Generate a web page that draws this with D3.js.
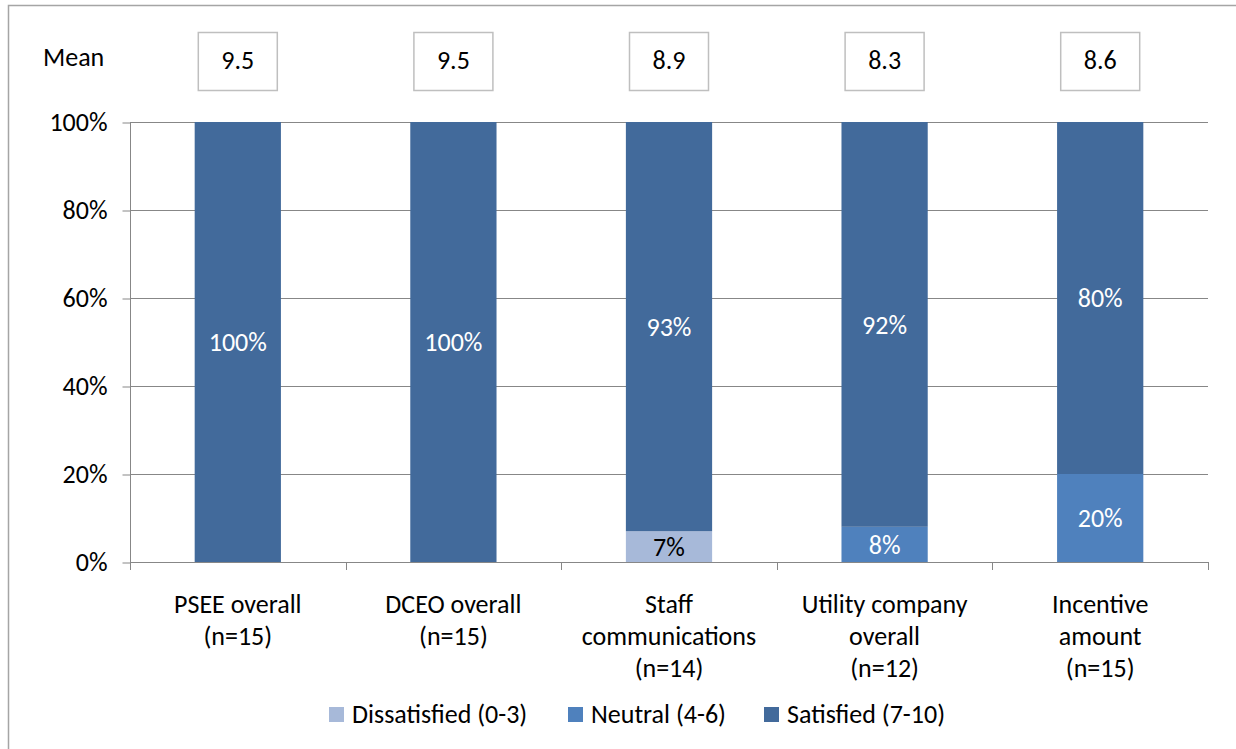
<!DOCTYPE html>
<html>
<head>
<meta charset="utf-8">
<script src="https://cdn.jsdelivr.net/npm/d3@7"></script>
<style>
  html, body { margin: 0; padding: 0; background: #fff; }
  svg text { font-family: Carlito, Lato, "Liberation Sans", sans-serif; }
</style>
</head>
<body>
<svg id="chart" width="1236" height="749"></svg>
<script>
// Satisfaction ratings by program aspect
const categories = [
  ["PSEE overall", "(n=15)"],
  ["DCEO overall", "(n=15)"],
  ["Staff", "communications", "(n=14)"],
  ["Utility company", "overall", "(n=12)"],
  ["Incentive", "amount", "(n=15)"]
];
const means = ["9.5", "9.5", "8.9", "8.3", "8.6"];
const seriesNames = ["Dissatisfied (0-3)", "Neutral (4-6)", "Satisfied (7-10)"];
const dissatisfied = [0, 0, 7, 0, 0];
const neutral = [0, 0, 0, 8, 20];
const satisfied = [100, 100, 93, 92, 80];
const yTicks = [0, 20, 40, 60, 80, 100];

const colors = ["#a7b9d9", "#4f81bd", "#426a9b"];
const labelColors = ["#000", "#fff", "#fff"];
const gridColor = "#878787";
const fontSize = 26;

const svg = d3.select("#chart");

// outer frame
svg.append("rect")
  .attr("x", 8.5).attr("y", 5.5)
  .attr("width", 1260).attr("height", 780)
  .attr("fill", "none").attr("stroke", "#a5a5a5").attr("stroke-width", 1.5);

const plotLeft = 130, plotRight = 1208, plotTop = 122, plotBottom = 562;

const x = d3.scaleBand()
  .domain(d3.range(categories.length))
  .range([plotLeft, plotRight])
  .paddingInner(0.6)
  .paddingOuter(0.3);

const y = d3.scaleLinear().domain([0, 100]).range([plotBottom, plotTop]);

// horizontal gridlines
svg.append("g").selectAll("line")
  .data(yTicks.filter(t => t > 0))
  .join("line")
  .attr("x1", plotLeft).attr("x2", plotRight)
  .attr("y1", d => y(d) + 0.5).attr("y2", d => y(d) + 0.5)
  .attr("stroke", gridColor).attr("stroke-width", 1);

// y axis
const yAxis = d3.axisLeft(y)
  .tickValues(yTicks)
  .tickFormat(d => d + "%")
  .tickSize(8)
  .tickPadding(15);
const gy = svg.append("g").attr("transform", `translate(${plotLeft + 0.5},0.5)`).call(yAxis);
gy.select(".domain").attr("stroke", gridColor).attr("d", `M0,${plotTop}V${plotBottom}`);
gy.selectAll(".tick line").attr("stroke", gridColor);
gy.selectAll(".tick text")
  .attr("font-size", fontSize).attr("fill", "#000")
  .attr("font-family", "Carlito, Lato, 'Liberation Sans', sans-serif");

// x axis baseline with category boundary ticks
const step = x.step();
svg.append("line")
  .attr("x1", plotLeft).attr("x2", plotRight)
  .attr("y1", plotBottom + 0.5).attr("y2", plotBottom + 0.5)
  .attr("stroke", gridColor);
svg.append("g").selectAll("line")
  .data(d3.range(categories.length + 1))
  .join("line")
  .attr("x1", i => Math.round(plotLeft + i * step) + 0.5)
  .attr("x2", i => Math.round(plotLeft + i * step) + 0.5)
  .attr("y1", plotBottom).attr("y2", plotBottom + 8)
  .attr("stroke", gridColor);

// stacked bars
const rows = categories.map((c, i) => ({
  i, values: [dissatisfied[i], neutral[i], satisfied[i]]
}));
const stack = d3.stack().keys([0, 1, 2]).value((d, k) => d.values[k]);
const layers = stack(rows);

layers.forEach((layer, k) => {
  const g = svg.append("g");
  g.selectAll("rect")
    .data(layer.filter(d => d[1] - d[0] > 0))
    .join("rect")
    .attr("x", d => x(d.data.i))
    .attr("width", x.bandwidth())
    .attr("y", d => y(d[1]))
    .attr("height", d => y(d[0]) - y(d[1]))
    .attr("fill", colors[k]);
  g.selectAll("text")
    .data(layer.filter(d => d[1] - d[0] > 0))
    .join("text")
    .attr("x", d => x(d.data.i) + x.bandwidth() / 2)
    .attr("y", d => y((d[0] + d[1]) / 2))
    .attr("dy", "0.36em")
    .attr("text-anchor", "middle")
    .attr("font-size", fontSize)
    .attr("fill", labelColors[k])
    .text(d => (d[1] - d[0]) + "%");
});

// category labels
const catG = svg.append("g");
categories.forEach((lines, i) => {
  const t = catG.append("text")
    .attr("text-anchor", "middle")
    .attr("font-size", fontSize)
    .attr("fill", "#000");
  lines.forEach((ln, j) => {
    t.append("tspan")
      .attr("x", x(i) + x.bandwidth() / 2)
      .attr("y", 613 + j * 32)
      .text(ln);
  });
});

// mean row
svg.append("text")
  .attr("x", 43).attr("y", 66)
  .attr("font-size", fontSize).attr("fill", "#000")
  .text("Mean");
const meanG = svg.append("g").selectAll("g")
  .data(means)
  .join("g")
  .attr("transform", (d, i) => `translate(${x(i) + x.bandwidth() / 2},0)`);
meanG.append("rect")
  .attr("x", -39.5).attr("y", 32.5)
  .attr("width", 79).attr("height", 58)
  .attr("fill", "#fff").attr("stroke", "#bfbfbf").attr("stroke-width", 1.5);
meanG.append("text")
  .attr("y", 69)
  .attr("text-anchor", "middle")
  .attr("font-size", fontSize).attr("fill", "#000")
  .text(d => d);

// legend
const legendX = [329, 568, 764];
const legend = svg.append("g").selectAll("g")
  .data(seriesNames)
  .join("g")
  .attr("transform", (d, i) => `translate(${legendX[i]},707)`);
legend.append("rect")
  .attr("width", 15).attr("height", 15)
  .attr("fill", (d, i) => colors[i]);
legend.append("text")
  .attr("x", 23).attr("y", 16)
  .attr("font-size", fontSize).attr("fill", "#000")
  .text(d => d);
</script>
</body>
</html>
